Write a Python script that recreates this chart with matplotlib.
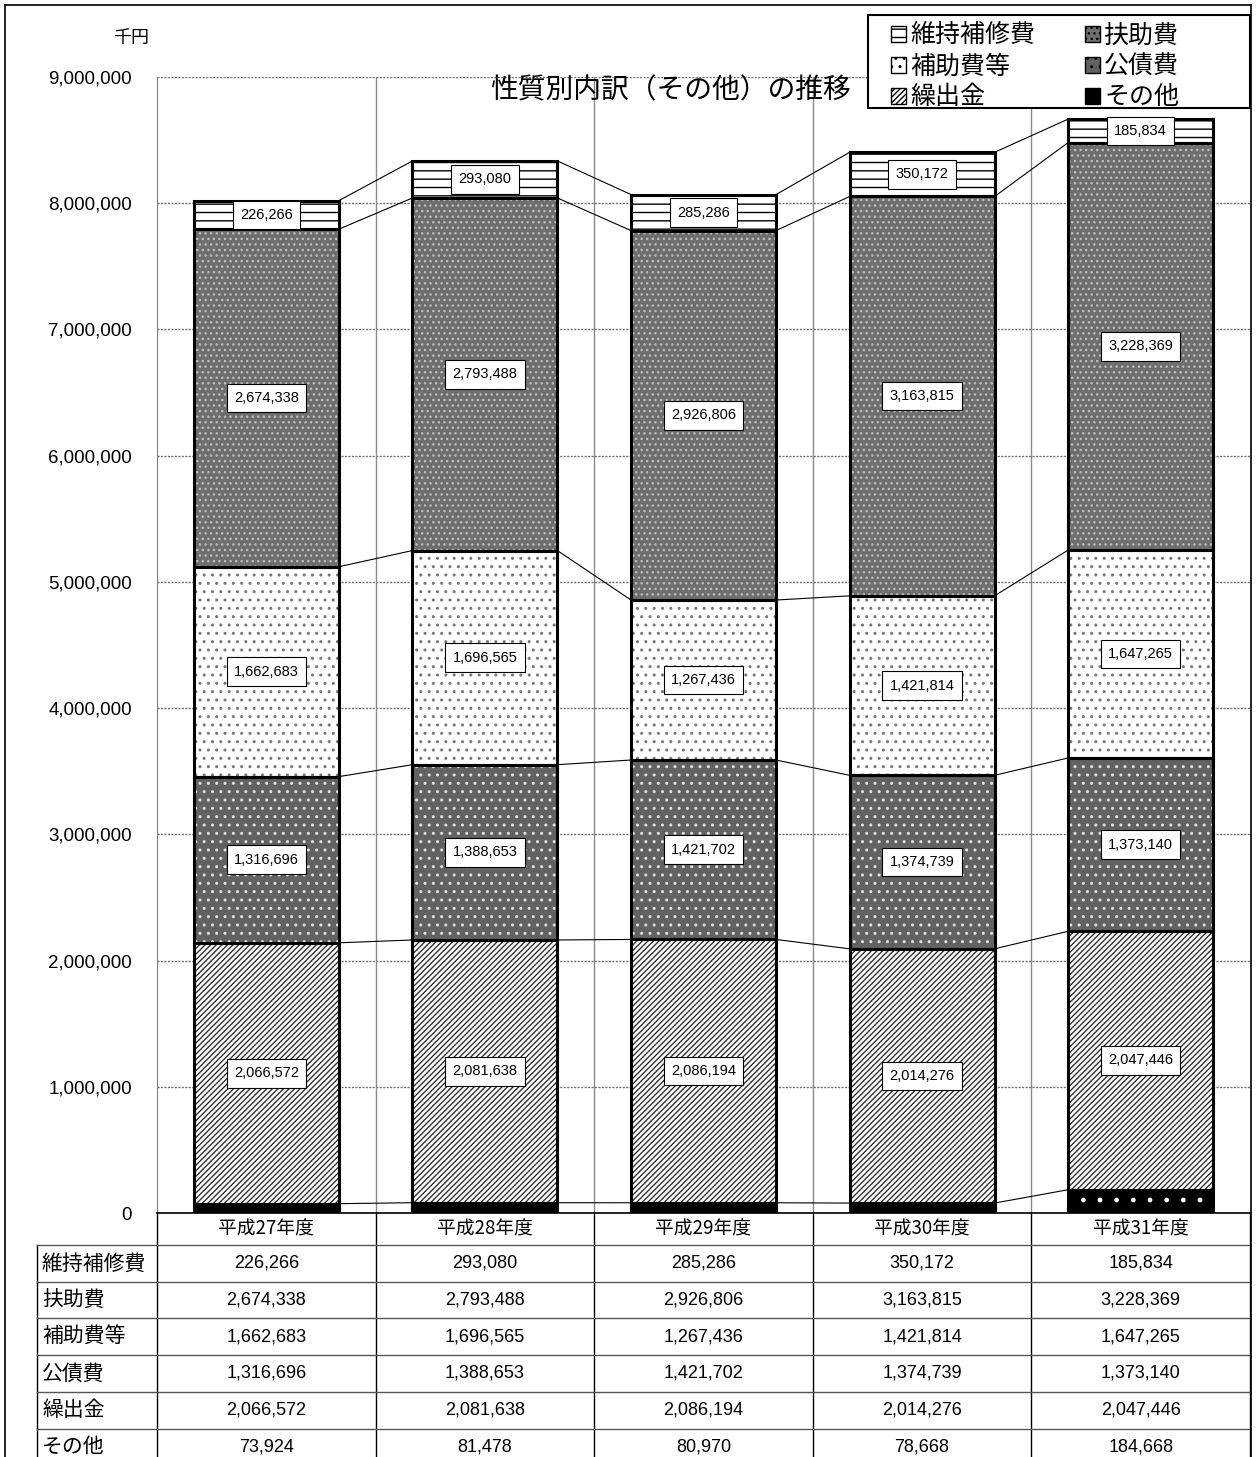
import matplotlib
matplotlib.use('Agg')
import matplotlib.pyplot as plt
import matplotlib.ticker as ticker
from matplotlib.patches import Patch, Rectangle
import numpy as np

plt.rcParams['font.family'] = ['Noto Sans CJK JP', 'DejaVu Sans']
plt.rcParams['hatch.linewidth'] = 1.0

W, H = 1257, 1457
NUM_FONT = 'Liberation Sans'

years = ['平成27年度', '平成28年度', '平成29年度', '平成30年度', '平成31年度']
maint    = [226266, 293080, 285286, 350172, 185834]        # 維持補修費
welfare  = [2674338, 2793488, 2926806, 3163815, 3228369]   # 扶助費
subsidy  = [1662683, 1696565, 1267436, 1421814, 1647265]   # 補助費等
debt     = [1316696, 1388653, 1421702, 1374739, 1373140]   # 公債費
transfer = [2066572, 2081638, 2086194, 2014276, 2047446]   # 繰出金
other    = [73924, 81478, 80970, 78668, 184668]            # その他

table_rows = ['維持補修費', '扶助費', '補助費等', '公債費', '繰出金', 'その他']
table_vals = [maint, welfare, subsidy, debt, transfer, other]

# bottom -> top: name, values, face, hatch, hatch colour, show label
stack = [
    ('その他',     other,    'black',   '.',      'white',   False),
    ('繰出金',     transfer, 'white',   '//////', '#333333', True),
    ('公債費',     debt,     '#626262', '..',     '#e0e0e0', True),
    ('補助費等',   subsidy,  'white',   '..',     '#777777', True),
    ('扶助費',     welfare,  '#6e6e6e', '...',    '#bdbdbd', True),
    ('維持補修費', maint,    'white',   '--',     'black',   True),
]

PL, PR, PT, PB = 157, 1250, 77, 1213
fig = plt.figure(figsize=(W / 100, H / 100), dpi=100)
ax = fig.add_axes([PL / W, 1 - PB / H, (PR - PL) / W, (PB - PT) / H])

x = np.arange(len(years))
bw = 0.663
bottom = np.zeros(len(years))
tops = []
for name, vals, fc, hatch, hc, lab in stack:
    vals = np.array(vals, dtype=float)
    ax.bar(x, vals, bw, bottom=bottom, color=fc, hatch=hatch, edgecolor=hc,
           linewidth=0, zorder=3)
    ax.bar(x, vals, bw, bottom=bottom, fill=False, edgecolor='black',
           linewidth=2.2, zorder=4)
    if lab:
        for i in range(len(years)):
            ax.text(x[i], bottom[i] + vals[i] / 2, f'{int(vals[i]):,}',
                    ha='center', va='center', fontsize=10.5, family=NUM_FONT,
                    zorder=6,
                    bbox=dict(boxstyle='square,pad=0.5', fc='white',
                              ec='black', lw=0.8))
    bottom = bottom + vals
    tops.append(bottom.copy())

# connector lines between bars
for cum in tops:
    for i in range(len(years) - 1):
        ax.plot([x[i] + bw / 2, x[i + 1] - bw / 2], [cum[i], cum[i + 1]],
                color='black', lw=0.8, zorder=5)

ax.set_xlim(-0.5, len(years) - 0.5)
ax.set_ylim(0, 9000000)
ax.set_yticks(np.arange(0, 9000001, 1000000))
ax.yaxis.set_major_formatter(ticker.FuncFormatter(lambda v, _: f'{int(v):,}'))
for t in ax.get_yticklabels():
    t.set_fontfamily(NUM_FONT)
    t.set_fontsize(13.5)
ax.tick_params(axis='y', length=0, pad=18)
ax.set_xticks(x)
ax.set_xticklabels(years, fontsize=13.5)
ax.tick_params(axis='x', length=0, pad=4)

for yv in np.arange(1000000, 9000001, 1000000):
    ax.axhline(yv, color='#707070', lw=1.0, ls=(0, (1.5, 1)), zorder=1)
for xv in np.arange(0.5, len(years) - 0.5, 1):
    ax.axvline(xv, color='#8a8a8a', lw=1.0, zorder=1)
ax.spines['top'].set_visible(False)
ax.spines['right'].set_visible(False)
ax.spines['left'].set_color('#808080')
ax.spines['bottom'].set_color('black')
ax.spines['bottom'].set_linewidth(1.2)

# overlay in pixel coordinates for table, titles and borders
ov = fig.add_axes([0, 0, 1, 1])
ov.set_xlim(0, W)
ov.set_ylim(H, 0)
ov.axis('off')
ov.patch.set_visible(False)

col_w = (PR - PL) / len(years)
row_top, row_h, lab_left = 1245, 36.7, 37
for k in range(len(years) + 1):
    ov.plot([PL + k * col_w] * 2, [PB, H], color='black', lw=1.0)
ov.plot([lab_left, lab_left], [row_top, H], color='black', lw=1.0)
for r in range(len(table_rows)):
    yy = row_top + r * row_h
    ov.plot([lab_left, PR], [yy, yy], color='#555555', lw=1.0)
for r, (name, vals) in enumerate(zip(table_rows, table_vals)):
    yc = row_top + r * row_h + row_h / 2
    ov.text(lab_left + 5, yc, name, ha='left', va='center', fontsize=15)
    for i, v in enumerate(vals):
        ov.text(PL + (i + 0.5) * col_w, yc, f'{v:,}', ha='center', va='center',
                fontsize=13, family=NUM_FONT)

ov.text(671, 90, '性質別内訳（その他）の推移', ha='center', va='center', fontsize=20)
ov.text(131, 38, '千円', ha='center', va='center', fontsize=13)

# outer border
ov.plot([5, 5], [5, H], color='black', lw=1.2)
ov.plot([5, 1251], [5, 5], color='black', lw=1.2)
ov.plot([1251, 1251], [5, H], color='black', lw=1.2)

# legend frame (drawn separately so the box can be wider than its entries)
ov.add_patch(Rectangle((868, 15), 1250 - 868, 108 - 15, facecolor='white',
                       edgecolor='black', lw=1.5, zorder=8))

# legend: column-wise order
order = [5, 3, 1, 4, 2, 0]
handles = [Patch(facecolor=stack[j][2], hatch=stack[j][3], edgecolor='black',
                 label=stack[j][0]) for j in order]
leg = fig.legend(handles=handles, ncol=2, loc='upper left',
                 bbox_to_anchor=(884 / W, 1 - 15 / H), fontsize=18,
                 frameon=False, handlelength=0.6, handleheight=0.6,
                 handletextpad=0.15, columnspacing=2.0, borderpad=0.3,
                 labelspacing=0.2, borderaxespad=0)
leg.set_zorder(10)

fig.savefig('out.png', dpi=100)
